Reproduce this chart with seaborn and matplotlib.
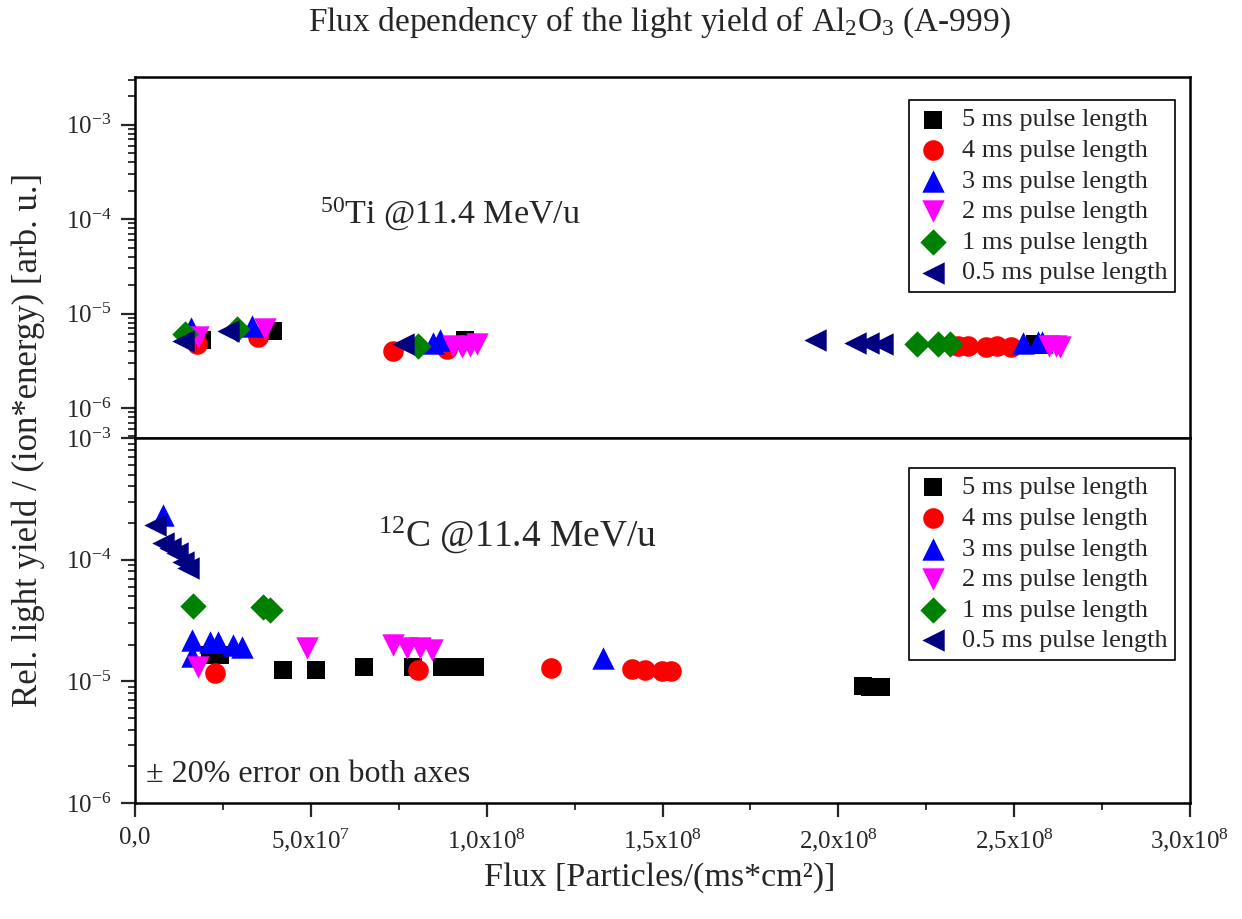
import matplotlib
matplotlib.use("Agg")
import matplotlib.pyplot as plt
import seaborn as sns
import pandas as pd
from matplotlib.ticker import LogLocator, MultipleLocator, NullFormatter, FixedLocator, FixedFormatter

# ---------------- data ----------------
series_labels = ["5 ms pulse length", "4 ms pulse length", "3 ms pulse length",
                 "2 ms pulse length", "1 ms pulse length", "0.5 ms pulse length"]

# 50Ti @ 11.4 MeV/u  (top panel)
ti_flux_5ms = [1.9e7, 3.92e7, 9.38e7, 2.56e8, 2.58e8]
ti_ly_5ms = [5.3e-6, 6.45e-6, 5.3e-6, 4.7e-6, 4.6e-6]
ti_flux_4ms = [1.76e7, 3.5e7, 7.34e7, 8.87e7, 2.34e8, 2.37e8, 2.42e8, 2.45e8, 2.49e8]
ti_ly_4ms = [4.7e-6, 5.7e-6, 4.0e-6, 4.2e-6, 4.5e-6, 4.5e-6, 4.4e-6, 4.5e-6, 4.4e-6]
ti_flux_3ms = [1.59e7, 3.33e7, 8.47e7, 8.67e7, 2.525e8, 2.567e8, 2.58e8]
ti_ly_3ms = [7.1e-6, 7.3e-6, 4.9e-6, 5.3e-6, 4.9e-6, 5.0e-6, 5.0e-6]
ti_flux_2ms = [1.79e7, 3.7e7, 9.04e7, 9.3e7, 9.53e7, 9.72e7, 2.6e8, 2.62e8, 2.63e8]
ti_ly_2ms = [5.7e-6, 6.8e-6, 4.5e-6, 4.4e-6, 4.5e-6, 4.7e-6, 4.5e-6, 4.5e-6, 4.4e-6]
ti_flux_1ms = [1.42e7, 2.9e7, 8.05e7, 2.223e8, 2.283e8, 2.317e8]
ti_ly_1ms = [6.0e-6, 6.8e-6, 4.5e-6, 4.7e-6, 4.7e-6, 4.7e-6]
ti_flux_05ms = [1.36e7, 2.64e7, 7.62e7, 1.933e8, 2.047e8, 2.084e8, 2.124e8]
ti_ly_05ms = [5.1e-6, 6.45e-6, 4.7e-6, 5.3e-6, 4.9e-6, 4.9e-6, 4.8e-6]

# 12C @ 11.4 MeV/u  (bottom panel)
c_flux_5ms = [2.13e7, 2.42e7, 4.21e7, 5.15e7, 6.51e7, 7.9e7, 8.73e7, 9.18e7, 9.67e7, 2.07e8, 2.09e8, 2.12e8]
c_ly_5ms = [1.65e-5, 1.65e-5, 1.24e-5, 1.24e-5, 1.31e-5, 1.31e-5, 1.31e-5, 1.31e-5, 1.31e-5, 9.1e-6, 9.0e-6, 8.9e-6]
c_flux_4ms = [2.27e7, 8.05e7, 1.183e8, 1.413e8, 1.45e8, 1.498e8, 1.524e8]
c_ly_4ms = [1.17e-5, 1.24e-5, 1.28e-5, 1.26e-5, 1.24e-5, 1.22e-5, 1.22e-5]
c_flux_3ms = [0.8e7, 1.62e7, 1.62e7, 2.13e7, 2.36e7, 2.79e7, 3.04e7, 1.331e8]
c_ly_3ms = [2.33e-4, 2.19e-5, 1.6e-5, 2.1e-5, 2.1e-5, 2.0e-5, 1.9e-5, 1.56e-5]
c_flux_2ms = [1.79e7, 4.89e7, 7.34e7, 7.73e7, 8.1e7, 8.44e7]
c_ly_2ms = [1.31e-5, 1.88e-5, 1.98e-5, 1.88e-5, 1.88e-5, 1.8e-5]
c_flux_1ms = [1.65e7, 3.64e7, 3.84e7]
c_ly_1ms = [4.17e-5, 4.1e-5, 3.85e-5]
c_flux_05ms = [0.57e7, 0.8e7, 1.0e7, 1.19e7, 1.36e7, 1.5e7]
c_ly_05ms = [1.93e-4, 1.37e-4, 1.25e-4, 1.13e-4, 9.6e-5, 8.5e-5]

xtick_values = [0, 5e7, 1e8, 1.5e8, 2e8, 2.5e8, 3e8]
xtick_labels = ["0,0", "5,0x10$^{7}$", "1,0x10$^{8}$", "1,5x10$^{8}$",
                "2,0x10$^{8}$", "2,5x10$^{8}$", "3,0x10$^{8}$"]

# ---------------- style ----------------
sns.set_style("ticks")
plt.rcParams['font.family'] = ['Liberation Serif', 'DejaVu Serif']
plt.rcParams['mathtext.fontset'] = 'custom'
plt.rcParams['mathtext.rm'] = 'Liberation Serif'
plt.rcParams['mathtext.it'] = 'Liberation Serif:italic'
plt.rcParams['mathtext.bf'] = 'Liberation Serif:bold'
plt.rcParams['axes.unicode_minus'] = False

colors = ["#000000", "#FF0000", "#0000FF", "#FF00FF", "#008000", "#000080"]
markers = ["s", "o", "^", "v", "D", "<"]
sizes = [160, 220, 260, 260, 180, 260]

fig = plt.figure(figsize=(12.42, 9.19), dpi=100)
W_PX, H_PX = 1242, 919
left, right = 135 / W_PX, 1190 / W_PX
ax_top = fig.add_axes([left, 1 - 438 / H_PX, right - left, (438 - 77) / H_PX])
ax_bot = fig.add_axes([left, 1 - 803 / H_PX, right - left, (803 - 438) / H_PX])

top_data = [(ti_flux_5ms, ti_ly_5ms), (ti_flux_4ms, ti_ly_4ms), (ti_flux_3ms, ti_ly_3ms),
            (ti_flux_2ms, ti_ly_2ms), (ti_flux_1ms, ti_ly_1ms), (ti_flux_05ms, ti_ly_05ms)]
bot_data = [(c_flux_5ms, c_ly_5ms), (c_flux_4ms, c_ly_4ms), (c_flux_3ms, c_ly_3ms),
            (c_flux_2ms, c_ly_2ms), (c_flux_1ms, c_ly_1ms), (c_flux_05ms, c_ly_05ms)]

for ax, data in ((ax_top, top_data), (ax_bot, bot_data)):
    for i, (fx, ly) in enumerate(data):
        df = pd.DataFrame({"flux": fx, "ly": ly})
        sns.scatterplot(data=df, x="flux", y="ly", ax=ax, marker=markers[i],
                        color=colors[i], s=sizes[i], linewidth=0,
                        label=series_labels[i], zorder=3 + i)
    ax.set_yscale("log")
    ax.set_xlim(0, 3e8)
    ax.set_xlabel("")
    ax.set_ylabel("")
    ax.yaxis.set_major_locator(LogLocator(base=10, numticks=20))
    ax.yaxis.set_minor_locator(LogLocator(base=10, subs=range(2, 10), numticks=20))
    ax.yaxis.set_minor_formatter(NullFormatter())
    for sp in ax.spines.values():
        sp.set_linewidth(1.8)
        sp.set_color("black")
        sp.set_visible(True)
    ax.tick_params(axis="y", which="major", direction="out", length=10, width=1.6,
                   labelsize=18, left=True, right=False, pad=7)
    ax.tick_params(axis="y", which="minor", direction="out", length=5, width=1.3,
                   left=True, right=False)
    leg = ax.legend(loc="upper right",
                    bbox_to_anchor=(0.986, 0.936 if ax is ax_top else 0.918),
                    fontsize=19, frameon=True, fancybox=False, framealpha=1,
                    edgecolor="black", handletextpad=0.5, labelspacing=0.27,
                    borderpad=0.3, handlelength=1.2, borderaxespad=0)
    leg.get_frame().set_linewidth(1.2)

ax_top.set_ylim(4.8e-7, 3.2e-3)
ax_bot.set_ylim(1e-6, 1e-3)

ax_top.tick_params(axis="x", which="both", bottom=False, top=False, labelbottom=False)
ax_bot.xaxis.set_major_locator(FixedLocator(xtick_values))
ax_bot.xaxis.set_major_formatter(FixedFormatter(xtick_labels))
ax_bot.xaxis.set_minor_locator(MultipleLocator(2.5e7))
ax_bot.tick_params(axis="x", which="major", direction="out", length=10, width=1.6,
                   labelsize=18, bottom=True, top=False, pad=7)
ax_bot.tick_params(axis="x", which="minor", direction="out", length=5, width=1.3,
                   bottom=True, top=False)

ax_top.text(0.175, 0.62, "$^{50}$Ti @11.4 MeV/u", transform=ax_top.transAxes,
            fontsize=24.5, va="center", ha="left")
ax_bot.text(0.23, 0.735, "$^{12}$C @11.4 MeV/u", transform=ax_bot.transAxes,
            fontsize=27, va="center", ha="left")
ax_bot.text(0.01, 0.078, "\u00b1 20% error on both axes", transform=ax_bot.transAxes,
            fontsize=23, va="center", ha="left")

fig.text(0.531, 1 - 22 / H_PX, "Flux dependency of the light yield of Al$_2$O$_3$ (A-999)",
         fontsize=24, ha="center", va="center")
fig.text(28 / W_PX, 1 - 440 / H_PX, "Rel. light yield / (ion*energy) [arb. u.]",
         fontsize=25, rotation=90, ha="center", va="center")
fig.text(0.531, 1 - 878 / H_PX, "Flux [Particles/(ms*cm\u00b2)]",
         fontsize=24.5, ha="center", va="center")

fig.savefig("out.png", dpi=100)
